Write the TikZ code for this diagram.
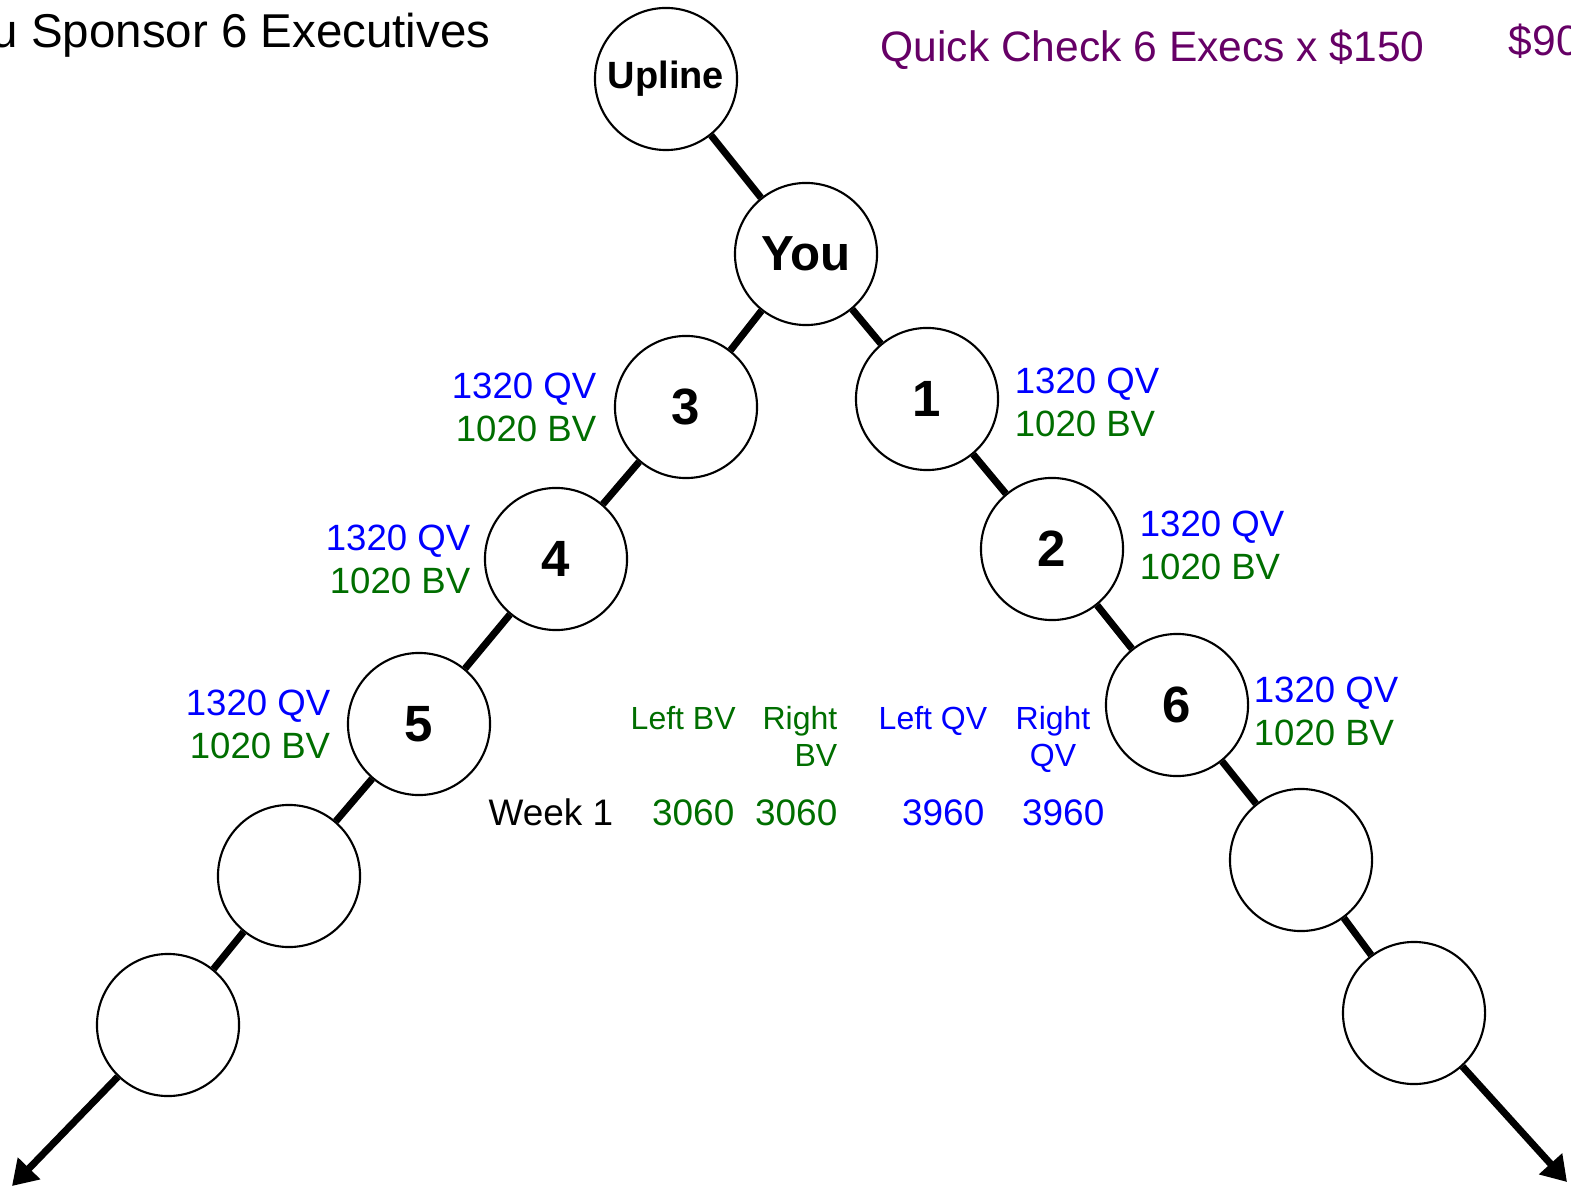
\documentclass[tikz,border=0pt]{standalone}
\usepackage{fontspec}
\setmainfont{Liberation Sans}
\usetikzlibrary{positioning, arrows.meta}

\definecolor{qvblue}{RGB}{0,0,255}
\definecolor{bvgreen}{RGB}{0,110,0}
\definecolor{checkpurple}{RGB}{102,0,102}
\newcommand{\volumes}{\textcolor{qvblue}{1320 QV}\\\textcolor{bvgreen}{1020 BV}}

\begin{document}
\begin{tikzpicture}[
        x = 0.01cm,
        y = -0.01cm,
        member/.style = {draw, circle, line width=0.6pt, minimum size=1.42cm, inner sep=0pt,
                font=\bfseries\fontsize{14.5}{16}\selectfont},
        link/.style   = {line width=2pt},
        flow/.style   = {line width=2pt, -{Triangle[length=7pt, width=8.5pt]}},
        volume/.style = {inner sep=0pt, font=\fontsize{10.4}{12.2}\selectfont},
        header/.style = {inner sep=0pt, font=\fontsize{9.1}{10.5}\selectfont},
        total/.style  = {inner sep=0pt, anchor=base east, font=\fontsize{10.5}{12}\selectfont},
    ]
    \useasboundingbox (0,0) rectangle (1571,1189);

    \node [anchor=base west, inner sep=0pt, font=\fontsize{13.5}{16}\selectfont] (title) at (-9,48) {u Sponsor 6 Executives};
    \node [anchor=base west, inner sep=0pt, text=checkpurple, font=\fontsize{12.1}{14}\selectfont] (check) at (880,62) {Quick Check 6 Execs x \$150};
    \node [anchor=base west, inner sep=0pt, text=checkpurple, font=\fontsize{12.1}{14}\selectfont] (payout) at (1508,56) {\$90};

    \node [member, font=\bfseries\fontsize{10.8}{12}\selectfont] (upline) at (666,79) {Upline};
    \node [member, font=\bfseries\fontsize{14}{16}\selectfont] (you) at (806,254) {You};
    \node [member] (n3) at (686,407) {3};
    \node [member] (n1) at (927,399) {1};
    \node [member] (n4) at (556,559) {4};
    \node [member] (n2) at (1052,549) {2};
    \node [member] (n5) at (419,724) {5};
    \node [member] (n6) at (1177,705) {6};
    \node [member] (leftA) at (289,876) {};
    \node [member] (rightA) at (1301,860) {};
    \node [member] (leftB) at (168,1025) {};
    \node [member] (rightB) at (1414,1013) {};
    \coordinate (leftend) at (12,1186);
    \coordinate (rightend) at (1567,1182);

    \foreach \from/\to in {upline/you, you/n3, you/n1, n3/n4, n4/n5, n5/leftA, leftA/leftB,
            n1/n2, n2/n6, n6/rightA, rightA/rightB}
        \draw [link] (\from) -- (\to);
    \draw [flow] (leftB) -- (leftend);
    \draw [flow] (rightB) -- (rightend);

    \node [volume, align=right, left=1.7mm of n3] (vol3) {\volumes};
    \node [volume, align=right, left=1.3mm of n4] (vol4) {\volumes};
    \node [volume, align=right, left=1.6mm of n5] (vol5) {\volumes};
    \node [volume, align=left, right=1.5mm of n1, yshift=-0.3mm] (vol1) {\volumes};
    \node [volume, align=left, right=1.5mm of n2, yshift=0.4mm] (vol2) {\volumes};
    \node [volume, align=left, right=0.4mm of n6, yshift=-0.6mm] (vol6) {\volumes};

    \node [header, text=bvgreen, anchor=north west] (leftbv) at (630,706) {Left BV};
    \node [header, text=bvgreen, anchor=north east, align=right] (rightbv) at (838,706) {Right\\BV};
    \node [header, text=qvblue, anchor=north west] (leftqv) at (878,706) {Left QV};
    \node [header, text=qvblue, anchor=north, align=center] (rightqv) at (1053,706) {Right\\QV};

    \node [total, anchor=base west] (week) at (488,825) {Week 1};
    \node [total, text=bvgreen] (bvleft) at (735,825) {3060};
    \node [total, text=bvgreen] (bvright) at (838,825) {3060};
    \node [total, text=qvblue] (qvleft) at (985,825) {3960};
    \node [total, text=qvblue] (qvright) at (1105,825) {3960};
\end{tikzpicture}
\end{document}
